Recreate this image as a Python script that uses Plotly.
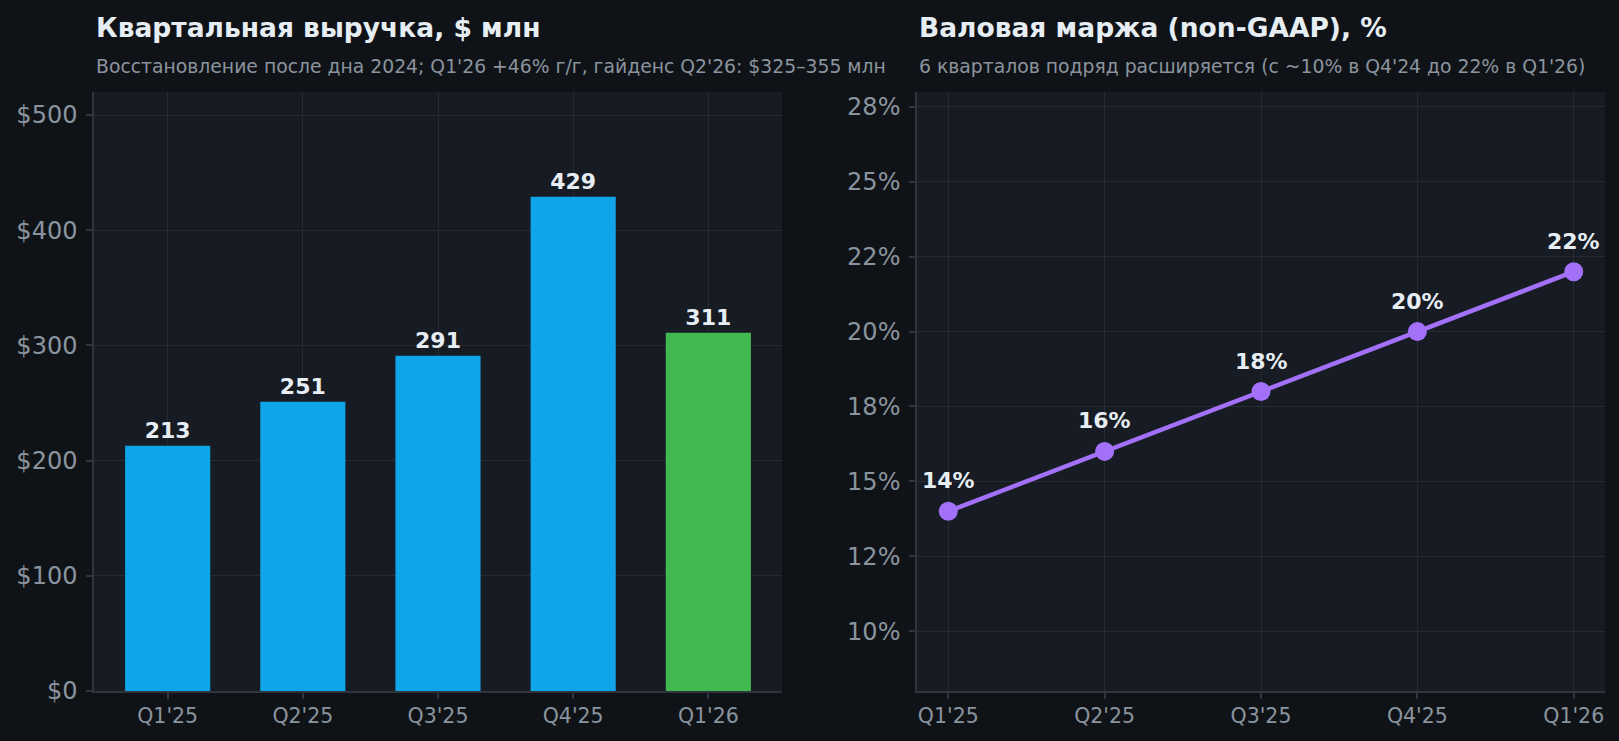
import plotly.graph_objects as go

# ---------------- data ----------------
quarters = ["Q1'25", "Q2'25", "Q3'25", "Q4'25", "Q1'26"]
revenue = [213, 251, 291, 429, 311]
bar_colors = ["#10a5e8", "#10a5e8", "#10a5e8", "#10a5e8", "#3fb950"]
margin_pct = [14, 16, 18, 20, 22]
margin_labels = ["14%", "16%", "18%", "20%", "22%"]

rev_ticks = [0, 100, 200, 300, 400, 500]
rev_tick_labels = ["$0", "$100", "$200", "$300", "$400", "$500"]
margin_ticks = [10, 12.5, 15, 17.5, 20, 22.5, 25, 27.5]
margin_tick_labels = ["10%", "12%", "15%", "18%", "20%", "22%", "25%", "28%"]

title_left = "Квартальная выручка, $ млн"
sub_left = "Восстановление после дна 2024; Q1'26 +46% г/г, гайденс Q2'26: $325–355 млн"
title_right = "Валовая маржа (non-GAAP), %"
sub_right = "6 кварталов подряд расширяется (с ~10% в Q4'24 до 22% в Q1'26)"

# ---------------- style ----------------
W, H = 1619, 741
PAGE_BG = "#0f1317"
PLOT_BG = "#171b23"
GRID = "#252a33"
SPINE = "#30353d"
TICK_TXT = "#8b949e"
TITLE_TXT = "#e6edf3"
PURPLE = "#a371f7"
FONT = "DejaVu Sans"

def px_x(p):
    return p / W

def px_y(p):
    return 1 - p / H

fig = go.Figure()

fig.add_trace(go.Bar(
    x=quarters, y=revenue, marker=dict(color=bar_colors, line=dict(width=0)),
    width=0.63,
    text=[str(v) for v in revenue], textposition="outside",
    textfont=dict(size=22, color=TITLE_TXT, family=FONT, weight="bold"),
    cliponaxis=False, xaxis="x", yaxis="y", hoverinfo="skip",
))

fig.add_trace(go.Scatter(
    x=quarters, y=margin_pct, mode="lines+markers",
    line=dict(color=PURPLE, width=4.5),
    marker=dict(size=19, color=PURPLE),
    xaxis="x2", yaxis="y2", cliponaxis=False, hoverinfo="skip",
))

annotations = []
for q, v, lab in zip(quarters, margin_pct, margin_labels):
    annotations.append(dict(
        x=q, y=v, xref="x2", yref="y2", text=lab, showarrow=False,
        yanchor="bottom", xanchor="center", yshift=16,
        font=dict(size=22, color=TITLE_TXT, family=FONT, weight="bold"),
    ))

for xpx, t, s in [(94, title_left, sub_left), (917, title_right, sub_right)]:
    annotations.append(dict(
        x=px_x(xpx), y=px_y(27), xref="paper", yref="paper", text=t,
        showarrow=False, xanchor="left", yanchor="middle",
        font=dict(size=26.5, color=TITLE_TXT, family=FONT, weight="bold"),
    ))
    annotations.append(dict(
        x=px_x(xpx), y=px_y(67), xref="paper", yref="paper", text=s,
        showarrow=False, xanchor="left", yanchor="middle",
        font=dict(size=18.8, color=TICK_TXT, family=FONT),
    ))

common_x = dict(
    type="category", showgrid=True, gridcolor=GRID, gridwidth=1,
    showline=True, linecolor=SPINE, linewidth=1.5,
    ticks="outside", ticklen=6, tickcolor=SPINE, tickwidth=1.5,
    tickfont=dict(size=20.5, color=TICK_TXT, family=FONT), zeroline=False,
    automargin=False,
)
common_y = dict(
    showgrid=True, gridcolor=GRID, gridwidth=1,
    showline=True, linecolor=SPINE, linewidth=1.5,
    ticks="outside", ticklen=6, tickcolor=SPINE, tickwidth=1.5,
    tickfont=dict(size=24, color=TICK_TXT, family=FONT), zeroline=False,
    ticklabelstandoff=4, automargin=False,
)

y_dom = [px_y(691), px_y(92)]

fig.update_layout(
    width=W, height=H, paper_bgcolor=PAGE_BG, plot_bgcolor=PLOT_BG,
    margin=dict(l=0, r=0, t=0, b=0, autoexpand=False), showlegend=False,
    font=dict(family=FONT, color=TICK_TXT),
    xaxis=dict(common_x, domain=[px_x(94), px_x(782)], range=[-0.545, 4.545], anchor="y"),
    yaxis=dict(common_y, domain=y_dom, range=[0, 520], tickvals=rev_ticks,
               ticktext=rev_tick_labels, anchor="x"),
    xaxis2=dict(common_x, domain=[px_x(917), px_x(1605)], range=[-0.2, 4.2], anchor="y2"),
    yaxis2=dict(common_y, domain=y_dom, range=[8, 28], tickvals=margin_ticks,
                ticktext=margin_tick_labels, anchor="x2"),
    annotations=annotations,
    bargap=0.37,
)

fig.write_html(
    "out.html",
    post_script="document.body.style.margin='0';document.body.style.background='#0f1317';",
    config={"displayModeBar": False},
)
